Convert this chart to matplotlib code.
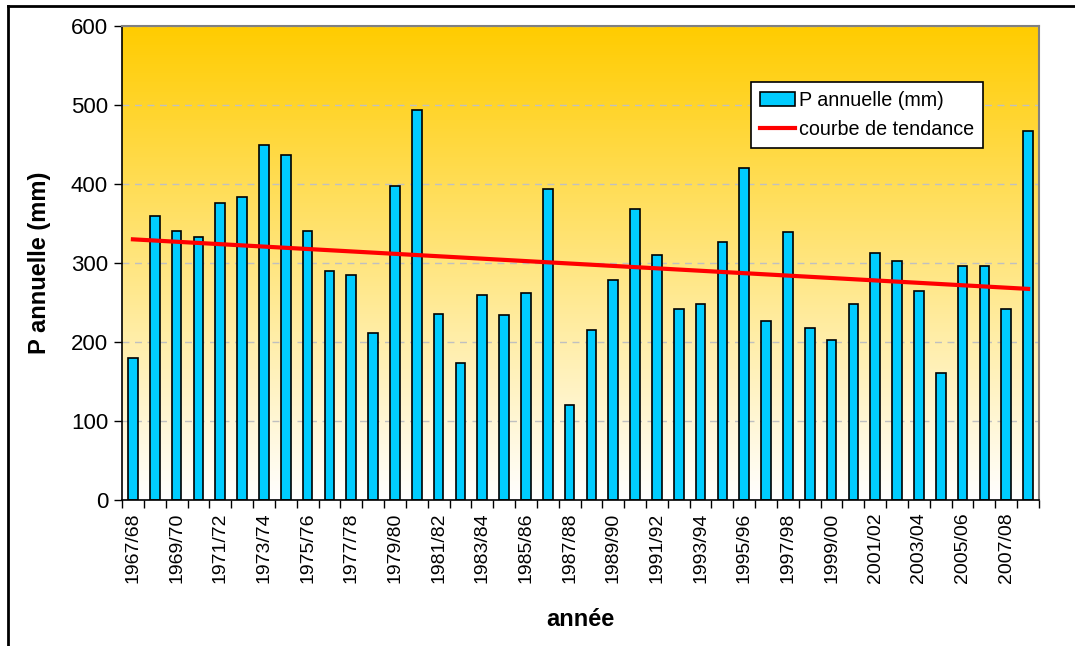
#!/usr/bin/env python3
"""annual precipitation bars with trend line"""
import numpy as np
import matplotlib.pyplot as plt
from matplotlib.lines import Line2D

plt.rcParams['font.family'] = ['Liberation Sans', 'DejaVu Sans']

years = ["1967/68", "1968/69", "1969/70", "1970/71", "1971/72", "1972/73",
         "1973/74", "1974/75", "1975/76", "1976/77", "1977/78", "1978/79",
         "1979/80", "1980/81", "1981/82", "1982/83", "1983/84", "1984/85",
         "1985/86", "1986/87", "1987/88", "1988/89", "1989/90", "1990/91",
         "1991/92", "1992/93", "1993/94", "1994/95", "1995/96", "1996/97",
         "1997/98", "1998/99", "1999/00", "2000/01", "2001/02", "2002/03",
         "2003/04", "2004/05", "2005/06", "2006/07", "2007/08", "2008/09"]
precip = [180, 360, 340, 333, 376, 384, 449, 437, 341, 290, 285, 212,
          398, 494, 236, 173, 260, 234, 262, 394, 120, 215, 278, 368,
          310, 242, 248, 327, 420, 226, 339, 218, 203, 248, 313, 302,
          264, 161, 296, 296, 242, 467]

x = np.arange(len(years))
slope, icept = np.polyfit(x, precip, 1)
trend = slope * x + icept

fig = plt.figure(figsize=(10.75, 6.46), dpi=100)
ax = fig.add_axes([122 / 1075, 1 - 500 / 646, 917 / 1075, 474 / 646])

# background gradient gold (top) -> white (bottom)
grad = np.linspace(0, 1, 256)[:, None, None]
top = np.array([255, 204, 0]) / 255
img = top * (1 - grad) + np.ones(3) * grad
ax.imshow(img, extent=[-0.5, len(years) - 0.5, 0, 600], origin='upper',
          aspect='auto', zorder=0, interpolation='bilinear')

bars = ax.bar(x, precip, width=0.45, color="#00CCFF", edgecolor="black",
              linewidth=1.2, zorder=2, label="P annuelle (mm)")
line, = ax.plot(x, trend, color="red", linewidth=3, zorder=3,
                label="courbe de tendance")

ax.set_xlim(-0.5, len(years) - 0.5)
ax.set_ylim(0, 600)
ax.set_yticks(np.arange(0, 601, 100))
ax.yaxis.grid(True, color="#c0c0c0", linestyle=(0, (5, 4)), linewidth=1)
ax.set_axisbelow(True)

ax.set_xticks(x[::2])
ax.set_xticklabels(years[::2], rotation=90)
ax.set_xticks(np.arange(-0.5, len(years)), minor=True)
ax.tick_params(axis='x', which='major', length=0, labelsize=14, pad=9)
ax.tick_params(axis='x', which='minor', length=6, width=1, direction='out')
ax.tick_params(axis='y', length=6, width=1, direction='out', labelsize=16, pad=4)

for s in ['top', 'right']:
    ax.spines[s].set_color("#808080")
    ax.spines[s].set_linewidth(1.5)
for s in ['left', 'bottom']:
    ax.spines[s].set_color("black")
    ax.spines[s].set_linewidth(1.2)

ax.set_ylabel("P annuelle (mm)", fontsize=17, fontweight='bold', labelpad=14)
ax.set_xlabel("année", fontsize=17, fontweight='bold', labelpad=18)

leg = ax.legend(handles=[bars, line], loc='upper left',
                bbox_to_anchor=(0.686, 0.882),
                borderaxespad=0, fontsize=14.2, fancybox=False,
                framealpha=1, edgecolor="black", handlelength=1.8,
                handletextpad=0.2, borderpad=0.45, labelspacing=0.5)
leg.get_frame().set_linewidth(1.2)

# outer chart frame (top and left edges visible)
fig.add_artist(Line2D([8 / 1075, 8 / 1075], [0, 1 - 6 / 646],
                      transform=fig.transFigure, color="black", linewidth=2))
fig.add_artist(Line2D([8 / 1075, 1], [1 - 6 / 646, 1 - 6 / 646],
                      transform=fig.transFigure, color="black", linewidth=2))

fig.savefig("out.png", dpi=100)
